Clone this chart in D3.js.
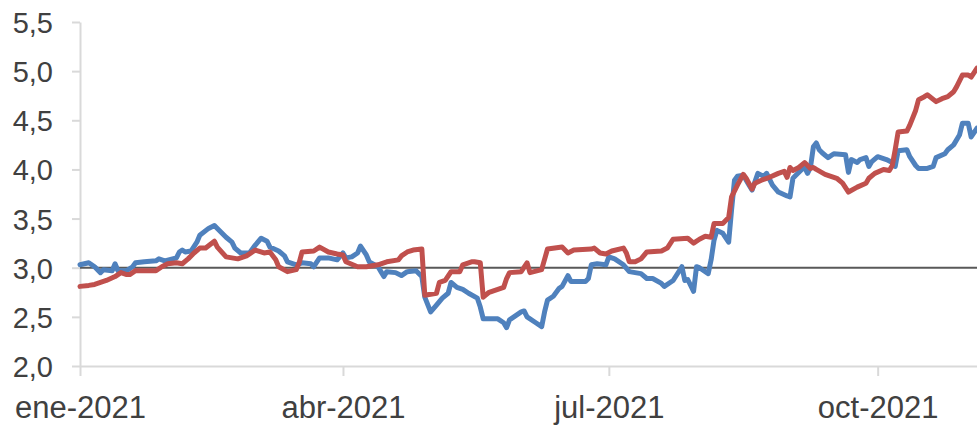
<!DOCTYPE html>
<html>
<head>
<meta charset="utf-8">
<script src="https://cdn.jsdelivr.net/npm/d3@7/dist/d3.min.js"></script>
<style>
  html, body { margin: 0; padding: 0; background: #ffffff; }
  svg { display: block; }
</style>
</head>
<body>
<div id="chart"></div>
<script>
// ---- Data ----
const blueDates = ["2021-01-01","2021-01-04","2021-01-06","2021-01-08","2021-01-09","2021-01-12","2021-01-13","2021-01-14","2021-01-17","2021-01-19","2021-01-20","2021-01-23","2021-01-27","2021-01-28","2021-01-30","2021-02-03","2021-02-04","2021-02-05","2021-02-06","2021-02-08","2021-02-10","2021-02-11","2021-02-14","2021-02-16","2021-02-17","2021-02-20","2021-02-22","2021-02-23","2021-02-25","2021-02-28","2021-03-02","2021-03-04","2021-03-06","2021-03-07","2021-03-10","2021-03-12","2021-03-13","2021-03-16","2021-03-18","2021-03-21","2021-03-22","2021-03-24","2021-03-27","2021-03-30","2021-04-01","2021-04-02","2021-04-04","2021-04-06","2021-04-07","2021-04-09","2021-04-10","2021-04-13","2021-04-14","2021-04-15","2021-04-16","2021-04-19","2021-04-21","2021-04-23","2021-04-26","2021-04-28","2021-04-29","2021-05-01","2021-05-03","2021-05-05","2021-05-07","2021-05-08","2021-05-10","2021-05-12","2021-05-14","2021-05-17","2021-05-18","2021-05-19","2021-05-24","2021-05-26","2021-05-27","2021-05-28","2021-05-31","2021-06-01","2021-06-02","2021-06-03","2021-06-06","2021-06-08","2021-06-09","2021-06-10","2021-06-12","2021-06-14","2021-06-15","2021-06-17","2021-06-18","2021-06-23","2021-06-24","2021-06-25","2021-06-27","2021-06-30","2021-07-01","2021-07-03","2021-07-06","2021-07-08","2021-07-12","2021-07-14","2021-07-16","2021-07-19","2021-07-20","2021-07-23","2021-07-26","2021-07-27","2021-07-28","2021-07-30","2021-07-31","2021-08-01","2021-08-04","2021-08-05","2021-08-06","2021-08-07","2021-08-09","2021-08-11","2021-08-12","2021-08-13","2021-08-14","2021-08-16","2021-08-18","2021-08-19","2021-08-21","2021-08-23","2021-08-24","2021-08-26","2021-08-28","2021-08-31","2021-09-01","2021-09-02","2021-09-03","2021-09-05","2021-09-06","2021-09-07","2021-09-08","2021-09-09","2021-09-10","2021-09-11","2021-09-12","2021-09-14","2021-09-16","2021-09-20","2021-09-21","2021-09-22","2021-09-24","2021-09-25","2021-09-27","2021-09-28","2021-09-29","2021-10-01","2021-10-04","2021-10-06","2021-10-07","2021-10-08","2021-10-11","2021-10-12","2021-10-14","2021-10-15","2021-10-18","2021-10-20","2021-10-21","2021-10-24","2021-10-25","2021-10-27","2021-10-29","2021-10-30","2021-11-01","2021-11-02","2021-11-04"];
const blueValues = [3.03,3.05,3.01,2.95,2.98,2.97,3.04,2.97,2.97,3.01,3.05,3.06,3.07,3.09,3.07,3.10,3.16,3.18,3.16,3.17,3.26,3.33,3.40,3.43,3.40,3.31,3.26,3.20,3.15,3.15,3.23,3.30,3.27,3.21,3.17,3.12,3.06,3.03,3.05,3.04,3.01,3.10,3.10,3.08,3.15,3.10,3.11,3.15,3.22,3.13,3.06,3.01,2.96,2.91,2.96,2.95,2.92,2.96,2.97,2.91,2.70,2.55,2.62,2.69,2.74,2.85,2.80,2.78,2.74,2.69,2.60,2.48,2.48,2.44,2.39,2.47,2.53,2.55,2.56,2.50,2.44,2.40,2.55,2.67,2.71,2.79,2.81,2.92,2.86,2.86,2.89,3.03,3.04,3.03,3.11,3.09,3.03,2.96,2.94,2.89,2.89,2.84,2.81,2.87,3.01,2.87,2.88,2.76,3.01,3.00,2.94,3.08,3.28,3.38,3.35,3.26,3.59,3.89,3.93,3.94,3.84,3.79,3.96,3.93,3.96,3.84,3.77,3.73,3.72,3.91,3.94,4.00,4.02,3.96,4.02,4.23,4.27,4.20,4.17,4.12,4.16,4.15,3.97,4.10,4.07,4.10,4.12,4.03,4.08,4.13,4.10,4.07,4.03,4.19,4.20,4.13,4.04,4.01,4.01,4.03,4.12,4.16,4.20,4.25,4.35,4.47,4.47,4.33,4.42];

const redDates = ["2021-01-01","2021-01-04","2021-01-06","2021-01-10","2021-01-13","2021-01-15","2021-01-17","2021-01-18","2021-01-20","2021-01-23","2021-01-27","2021-01-29","2021-01-31","2021-02-03","2021-02-05","2021-02-07","2021-02-09","2021-02-11","2021-02-13","2021-02-16","2021-02-17","2021-02-20","2021-02-22","2021-02-24","2021-02-27","2021-03-02","2021-03-05","2021-03-07","2021-03-09","2021-03-10","2021-03-13","2021-03-16","2021-03-17","2021-03-18","2021-03-22","2021-03-24","2021-03-27","2021-03-30","2021-04-01","2021-04-02","2021-04-06","2021-04-09","2021-04-13","2021-04-16","2021-04-20","2021-04-21","2021-04-23","2021-04-25","2021-04-28","2021-04-29","2021-05-03","2021-05-04","2021-05-06","2021-05-08","2021-05-11","2021-05-12","2021-05-15","2021-05-16","2021-05-18","2021-05-19","2021-05-21","2021-05-26","2021-05-27","2021-05-28","2021-06-01","2021-06-03","2021-06-04","2021-06-08","2021-06-10","2021-06-15","2021-06-17","2021-06-19","2021-06-25","2021-06-26","2021-06-28","2021-06-30","2021-07-02","2021-07-06","2021-07-07","2021-07-08","2021-07-10","2021-07-12","2021-07-14","2021-07-19","2021-07-21","2021-07-23","2021-07-28","2021-07-30","2021-08-01","2021-08-03","2021-08-05","2021-08-06","2021-08-09","2021-08-11","2021-08-12","2021-08-14","2021-08-16","2021-08-17","2021-08-19","2021-08-20","2021-08-23","2021-08-25","2021-08-28","2021-08-30","2021-08-31","2021-09-01","2021-09-02","2021-09-04","2021-09-06","2021-09-08","2021-09-09","2021-09-10","2021-09-13","2021-09-17","2021-09-19","2021-09-21","2021-09-24","2021-09-27","2021-09-28","2021-09-30","2021-10-03","2021-10-05","2021-10-06","2021-10-07","2021-10-08","2021-10-11","2021-10-12","2021-10-14","2021-10-15","2021-10-17","2021-10-18","2021-10-21","2021-10-23","2021-10-25","2021-10-27","2021-10-28","2021-10-30","2021-11-01","2021-11-02","2021-11-04"];
const redValues = [2.81,2.82,2.83,2.87,2.91,2.95,2.93,2.93,2.97,2.97,2.97,3.01,3.04,3.05,3.04,3.09,3.15,3.20,3.20,3.27,3.21,3.11,3.10,3.09,3.12,3.18,3.15,3.16,3.08,3.01,2.96,2.98,3.05,3.16,3.17,3.21,3.16,3.14,3.13,3.06,3.01,3.01,3.03,3.06,3.08,3.12,3.16,3.18,3.19,2.72,2.74,2.85,2.87,2.96,2.96,3.03,3.06,3.06,3.05,2.70,2.75,2.80,2.89,2.95,2.96,3.05,2.95,2.98,3.19,3.21,3.15,3.18,3.19,3.20,3.15,3.14,3.17,3.20,3.15,3.06,3.06,3.09,3.16,3.17,3.20,3.29,3.30,3.25,3.29,3.32,3.31,3.45,3.45,3.51,3.72,3.84,3.95,3.91,3.80,3.86,3.90,3.92,3.96,3.98,3.92,4.02,3.99,4.02,4.07,4.01,4.02,4.00,3.95,3.91,3.86,3.77,3.82,3.86,3.91,3.96,4.00,3.99,4.04,4.20,4.38,4.39,4.45,4.60,4.71,4.74,4.76,4.69,4.72,4.74,4.79,4.84,4.96,4.96,4.94,5.03];

const referenceLevel = 3.0;
const yTicks = [2.0, 2.5, 3.0, 3.5, 4.0, 4.5, 5.0, 5.5];
const xTickDates = ["2021-01-01","2021-04-01","2021-07-01","2021-10-01"];
const xTickLabels = ["ene-2021","abr-2021","jul-2021","oct-2021"];
const xDomain = ["2021-01-01","2021-11-04"];

// ---- Layout ----
const W = 977, H = 426;
const mLeft = 80, mRight = 977, mTop = 22, mBottom = 366;
const parse = d3.utcParse("%Y-%m-%d");

const x = d3.scaleUtc().domain(xDomain.map(parse)).range([mLeft, mRight]);
const y = d3.scaleLinear().domain([2.0, 5.5]).range([mBottom, mTop]);

const svg = d3.select("#chart").append("svg").attr("width", W).attr("height", H);

const fmt = v => d3.format(".1f")(v).replace(".", ",");

// y axis
const yAxis = svg.append("g").attr("transform", `translate(${mLeft},0)`)
  .call(d3.axisLeft(y).tickValues(yTicks).tickSize(8).tickSizeOuter(0).tickFormat(fmt));
yAxis.select(".domain").attr("stroke", "#d9d9d9").attr("stroke-width", 2);
yAxis.selectAll(".tick line").attr("stroke", "#d9d9d9").attr("stroke-width", 2);
yAxis.selectAll(".tick text")
  .attr("x", -27).attr("dy", "0.36em")
  .attr("fill", "#404040")
  .style("font-family", "'Liberation Sans', Arial, sans-serif")
  .style("font-size", "29px");

// x axis
const xAxis = svg.append("g").attr("transform", `translate(0,${mBottom})`)
  .call(d3.axisBottom(x).tickValues(xTickDates.map(parse)).tickSize(10).tickSizeOuter(0)
    .tickFormat((d, i) => xTickLabels[i]));
xAxis.select(".domain").attr("stroke", "#d9d9d9").attr("stroke-width", 2);
xAxis.selectAll(".tick line").attr("stroke", "#d9d9d9").attr("stroke-width", 2);
xAxis.selectAll(".tick text")
  .attr("y", 52).attr("dy", 0)
  .attr("fill", "#404040")
  .style("font-family", "'Liberation Sans', Arial, sans-serif")
  .style("font-size", "31px");

// reference line at 3.0
svg.append("line")
  .attr("x1", mLeft).attr("x2", mRight)
  .attr("y1", y(referenceLevel)).attr("y2", y(referenceLevel))
  .attr("stroke", "#595959").attr("stroke-width", 2);

const line = d3.line().x(d => x(d.date)).y(d => y(d.value));
const blue = blueDates.map((d, i) => ({ date: parse(d), value: blueValues[i] }));
const red = redDates.map((d, i) => ({ date: parse(d), value: redValues[i] }));

svg.append("path").datum(blue).attr("d", line)
  .attr("fill", "none").attr("stroke", "#4f81bd").attr("stroke-width", 5)
  .attr("stroke-linejoin", "round").attr("stroke-linecap", "round");
svg.append("path").datum(red).attr("d", line)
  .attr("fill", "none").attr("stroke", "#c0504d").attr("stroke-width", 5)
  .attr("stroke-linejoin", "round").attr("stroke-linecap", "round");
</script>
</body>
</html>
